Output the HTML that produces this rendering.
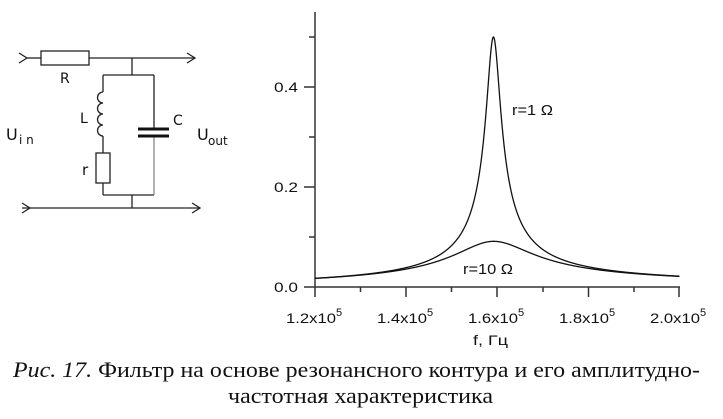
<!DOCTYPE html>
<html><head><meta charset="utf-8">
<style>
html,body{margin:0;padding:0;background:#fff;}
svg{display:block;}
</style></head>
<body>
<svg id="s" width="723" height="419" viewBox="0 0 723 419" xmlns="http://www.w3.org/2000/svg">
<rect width="723" height="419" fill="#fff"/>
<!-- circuit -->
<g fill="none" stroke="#222" stroke-width="1.3">
  <!-- top wire -->
  <polyline points="19,53 27,58 19,63"/>
  <line x1="27" y1="58" x2="41" y2="58"/>
  <rect x="41" y="51" width="48" height="14"/>
  <line x1="89" y1="58" x2="195" y2="58"/>
  <polyline points="187,53 195,58 187,63"/>
  <line x1="132" y1="58" x2="132" y2="75"/>
  <line x1="103" y1="75" x2="154" y2="75"/>
  <!-- left branch -->
  <line x1="103" y1="75" x2="103" y2="92"/>
  <path d="M103,92 a5.5,5.5 0 0 0 0,11 a5.5,5.5 0 0 0 0,11 a5.5,5.5 0 0 0 0,11 a5.5,5.5 0 0 0 0,11"/>
  <line x1="103" y1="136" x2="103" y2="153"/>
  <rect x="96" y="153" width="14" height="30"/>
  <line x1="103" y1="183" x2="103" y2="195"/>
  <line x1="103" y1="195" x2="154" y2="195"/>
  <!-- right branch -->
  <line x1="154" y1="75" x2="154" y2="128"/>
  <line x1="132" y1="195" x2="132" y2="208"/>
  <line x1="22" y1="208" x2="200" y2="208"/>
  <polyline points="22,203 30,208 22,213"/>
  <polyline points="192,203 200,208 192,213"/>
</g>
<line x1="154" y1="137" x2="154" y2="195" stroke="#888" stroke-width="1.3"/>
<rect x="138" y="127.5" width="31" height="3" fill="#111"/>
<rect x="138" y="134.5" width="31" height="3" fill="#111"/>
<g font-family="'DejaVu Sans', sans-serif" fill="#111">
  <text x="60" y="83" font-size="14">R</text>
  <text x="80" y="123" font-size="14">L</text>
  <text x="173" y="125" font-size="14">C</text>
  <text x="82" y="175" font-size="15">r</text>
  <text x="6" y="140" font-size="16">U</text>
  <text x="19" y="144" font-size="12">i n</text>
  <text x="197" y="140" font-size="16">U</text>
  <text x="208" y="145" font-size="12">out</text>
</g>
<!-- axes -->
<g stroke="#333" stroke-width="1.5" fill="none">
  <line x1="315" y1="12" x2="315" y2="297"/>
  <line x1="315" y1="287" x2="680" y2="287"/>
  <!-- y ticks -->
  <line x1="304" y1="287" x2="315" y2="287"/>
  <line x1="304" y1="187" x2="315" y2="187"/>
  <line x1="304" y1="87" x2="315" y2="87"/>
  <line x1="309" y1="237" x2="315" y2="237"/>
  <line x1="309" y1="137" x2="315" y2="137"/>
  <line x1="309" y1="37" x2="315" y2="37"/>
  <!-- x ticks -->
  <line x1="406" y1="287" x2="406" y2="297"/>
  <line x1="497" y1="287" x2="497" y2="297"/>
  <line x1="588.5" y1="287" x2="588.5" y2="297"/>
  <line x1="679" y1="287" x2="679" y2="297"/>
  <line x1="360.5" y1="287" x2="360.5" y2="292"/>
  <line x1="451.5" y1="287" x2="451.5" y2="292"/>
  <line x1="543" y1="287" x2="543" y2="292"/>
  <line x1="634" y1="287" x2="634" y2="292"/>
</g>
<g font-family="'Liberation Sans', Arial, sans-serif" fill="#111">
  <text x="274" y="292" font-size="14" textLength="24" lengthAdjust="spacingAndGlyphs">0.0</text>
  <text x="274" y="192" font-size="14" textLength="24" lengthAdjust="spacingAndGlyphs">0.2</text>
  <text x="274" y="92" font-size="14" textLength="24" lengthAdjust="spacingAndGlyphs">0.4</text>

  <text x="286" y="323" font-size="14" textLength="50" lengthAdjust="spacingAndGlyphs">1.2x10</text>
  <text x="336" y="316" font-size="11">5</text>
  <text x="377" y="323" font-size="14" textLength="50" lengthAdjust="spacingAndGlyphs">1.4x10</text>
  <text x="427" y="316" font-size="11">5</text>
  <text x="468" y="323" font-size="14" textLength="50" lengthAdjust="spacingAndGlyphs">1.6x10</text>
  <text x="518" y="316" font-size="11">5</text>
  <text x="559" y="323" font-size="14" textLength="50" lengthAdjust="spacingAndGlyphs">1.8x10</text>
  <text x="609" y="316" font-size="11">5</text>
  <text x="650" y="323" font-size="14" textLength="50" lengthAdjust="spacingAndGlyphs">2.0x10</text>
  <text x="700" y="316" font-size="11">5</text>

  <text x="473" y="345" font-size="14" textLength="35" lengthAdjust="spacingAndGlyphs">f, Гц</text>
  <text x="512" y="115" font-size="15" textLength="41" lengthAdjust="spacingAndGlyphs">r=1 Ω</text>
  <text x="463" y="274" font-size="15" textLength="50" lengthAdjust="spacingAndGlyphs">r=10 Ω</text>
</g>
<path id="c1" fill="none" stroke="#111" stroke-width="1.3" d=""/>
<path id="c2" fill="none" stroke="#111" stroke-width="1.3" d=""/>
<!-- caption -->
<g font-family="'Liberation Serif', 'Times New Roman', serif" fill="#111" font-size="22">
  <text x="13" y="377" textLength="687" lengthAdjust="spacingAndGlyphs"><tspan font-style="italic">Рис. 17.</tspan> Фильтр на основе резонансного контура и его амплитудно-</text>
  <text x="228" y="403" textLength="265" lengthAdjust="spacingAndGlyphs">частотная характеристика</text>
</g>
</svg>
<script>
(function(){
  function H(f,r){
    var w=2*Math.PI*f,L=1e-4,C=1e-8,R=1e4;
    var nr=r, ni=w*L, dr=1-w*w*L*C, di=w*C*r;
    var den=dr*dr+di*di;
    var zr=(nr*dr+ni*di)/den, zi=(ni*dr-nr*di)/den;
    return Math.hypot(zr,zi)/Math.hypot(R+zr,zi);
  }
  function path(r){
    var d="",N=1500;
    for(var i=0;i<=N;i++){
      var f=1.2e5+0.8e5*i/N;
      var x=315+(f-1.2e5)/0.8e5*364.5;
      var y=287-H(f,r)*500;
      d+=(i?"L":"M")+x.toFixed(2)+","+y.toFixed(2);
    }
    return d;
  }
  document.getElementById("c1").setAttribute("d",path(1));
  document.getElementById("c2").setAttribute("d",path(10));
})();
</script>
</body></html>
